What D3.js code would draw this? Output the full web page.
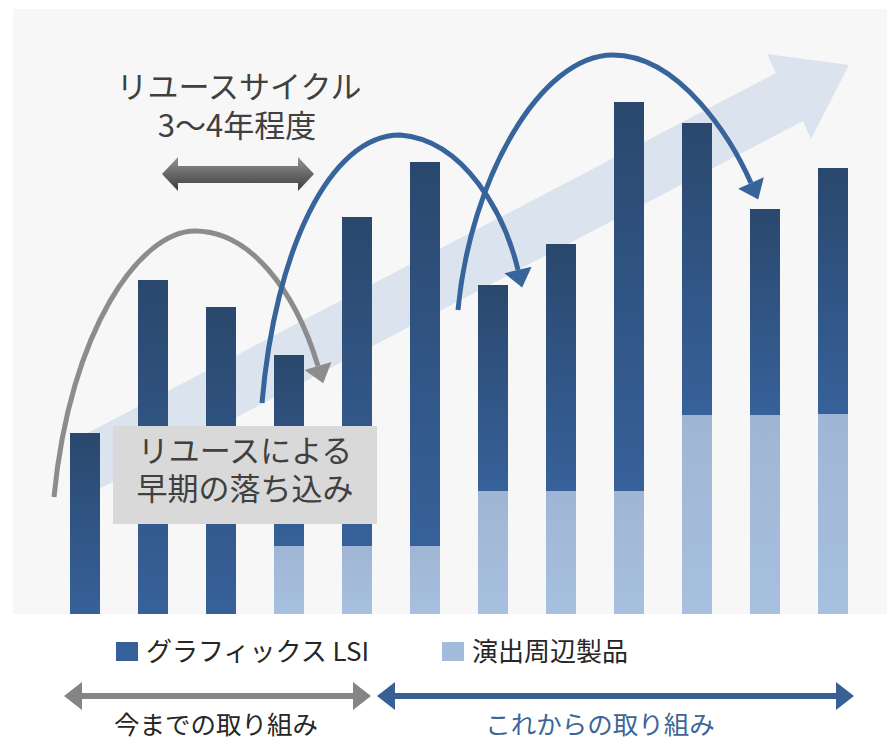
<!DOCTYPE html>
<html>
<head>
<meta charset="utf-8">
<script src="https://cdn.jsdelivr.net/npm/d3@7"></script>
<style>
  body { margin: 0; background: #fff; }
  svg { display: block; }
  text { font-family: "Noto Sans CJK JP", "Noto Sans", sans-serif; }
</style>
</head>
<body>
<div id="chart"></div>
<script>
// data (arbitrary units)
const periods = ["1", "2", "3", "4", "5", "6", "7", "8", "9", "10", "11", "12"];
const graphicsLSI = [18.1, 33.4, 30.7, 19.1, 32.9, 38.4, 20.6, 24.7, 38.9, 29.2, 20.6, 24.6];
const peripheral = [0, 0, 0, 6.8, 6.8, 6.8, 12.3, 12.3, 12.3, 19.9, 19.9, 20.0];
const seriesNames = ["グラフィックス LSI", "演出周辺製品"];
const spanLabels = ["今までの取り組み", "これからの取り組み"];
const cycleLabel = ["リユースサイクル", "3〜4年程度"];
const dropLabel = ["リユースによる", "早期の落ち込み"];

const width = 887, height = 741;
const panel = { left: 13, top: 9, bottom: 614 };

const svg = d3.select("#chart").append("svg")
    .attr("width", width)
    .attr("height", height);

const defs = svg.append("defs");
const grad = (id, c0, c1) => {
    const g = defs.append("linearGradient").attr("id", id)
        .attr("x1", 0).attr("x2", 0).attr("y1", 0).attr("y2", 1);
    g.append("stop").attr("offset", 0).attr("stop-color", c0);
    g.append("stop").attr("offset", 1).attr("stop-color", c1);
    return g;
};
grad("gDark", "#2a486d", "#37619a");
grad("gLight", "#9fb5d3", "#a7c0e0");
grad("gGrey", "#949494", "#3c3c3c")
    .attr("gradientUnits", "userSpaceOnUse")
    .attr("y1", 157).attr("y2", 191);

// panel background
svg.append("rect")
    .attr("x", panel.left).attr("y", panel.top)
    .attr("width", width - panel.left).attr("height", panel.bottom - panel.top)
    .attr("fill", "#f7f7f7");

const x = d3.scaleBand()
    .domain(periods)
    .range([51, 867])
    .paddingInner(38 / 68)
    .paddingOuter(19 / 68);

const y = d3.scaleLinear()
    .domain([0, 60])
    .range([panel.bottom, panel.bottom - 600]);

// big growth arrow behind the bars
svg.append("polygon")
    .attr("points", [[78, 438], [776, 73], [767, 54], [849, 65], [811, 139], [803, 121], [78, 500]].join(" "))
    .attr("fill", "#dbe3ee");

const data = periods.map((p, i) => ({ p, lsi: graphicsLSI[i], per: peripheral[i] }));

const bars = svg.append("g");
bars.selectAll("rect.per")
    .data(data.filter(d => d.per > 0))
    .join("rect")
    .attr("class", "per")
    .attr("x", d => x(d.p))
    .attr("y", d => y(d.per))
    .attr("width", x.bandwidth())
    .attr("height", d => y(0) - y(d.per))
    .attr("fill", "url(#gLight)");
bars.selectAll("rect.lsi")
    .data(data)
    .join("rect")
    .attr("class", "lsi")
    .attr("x", d => x(d.p))
    .attr("y", d => y(d.per + d.lsi))
    .attr("width", x.bandwidth())
    .attr("height", d => y(d.per) - y(d.per + d.lsi))
    .attr("fill", "url(#gDark)");

// curved arrows
function curveArrow(path, end, dir, color) {
    const g = svg.append("g");
    g.append("path")
        .attr("d", path)
        .attr("fill", "none")
        .attr("stroke", color)
        .attr("stroke-width", 5);
    const len = Math.hypot(dir[0], dir[1]);
    const ux = dir[0] / len, uy = dir[1] / len;
    const L = 18, W = 14;
    g.append("polygon")
        .attr("points", [
            [end[0] - uy * W, end[1] + ux * W],
            [end[0] + ux * L, end[1] + uy * L],
            [end[0] + uy * W, end[1] - ux * W]
        ].join(" "))
        .attr("fill", color);
}
curveArrow("M54,497 C70,330 140,231 195,231 C250,231 295,290 318,366", [318, 366], [23, 76], "#8c8c8c");
curveArrow("M262,403 C275,250 330,135 400,135 C465,140 505,215 518,270", [518, 270], [13, 55], "#37649a");
curveArrow("M458,310 C470,180 540,55 613,55 C680,55 732,140 751,183", [751, 183], [19, 43], "#37649a");

// grey double arrow under the cycle label
svg.append("polygon")
    .attr("points", [[162, 174], [178, 157], [178, 166], [298, 166], [298, 157], [314, 174],
                     [298, 191], [298, 183], [178, 183], [178, 191]].join(" "))
    .attr("fill", "url(#gGrey)");

// two-line labels as one text each
function twoLines(lines, cx, y0, dy, size, color) {
    const t = svg.append("text")
        .attr("text-anchor", "middle")
        .attr("font-size", size)
        .attr("fill", color);
    lines.forEach((s, i) => {
        t.append("tspan")
            .attr("x", cx[i])
            .attr("y", y0 + i * dy)
            .text(s);
    });
}
twoLines(cycleLabel, [239, 237], 98, 39, 31, "#404040");

// drop note box
svg.append("rect")
    .attr("x", 113).attr("y", 426)
    .attr("width", 264).attr("height", 98)
    .attr("fill", "#d9d9d9");
twoLines(dropLabel, [245, 245], 462, 38, 31, "#404040");

// legend
const legend = svg.append("g");
const legendX = [116, 442];
const legendColor = ["#36609a", "#a3bcdc"];
seriesNames.forEach((s, i) => {
    legend.append("rect")
        .attr("x", legendX[i]).attr("y", 642)
        .attr("width", 22).attr("height", 19)
        .attr("fill", legendColor[i]);
    legend.append("text")
        .attr("x", legendX[i] + 30).attr("y", 661)
        .attr("font-size", 26)
        .attr("fill", "#262626")
        .text(s);
});

// bottom span arrows
function spanArrow(x0, x1, cy, color) {
    const h = 18, hw = 14, sw = 3;
    svg.append("polygon")
        .attr("points", [[x0, cy], [x0 + h, cy - hw], [x0 + h, cy - sw], [x1 - h, cy - sw], [x1 - h, cy - hw], [x1, cy],
                         [x1 - h, cy + hw], [x1 - h, cy + sw], [x0 + h, cy + sw], [x0 + h, cy + hw]].join(" "))
        .attr("fill", color);
}
spanArrow(64, 371, 696, "#858585");
spanArrow(377, 854, 696, "#386094");

svg.append("text")
    .attr("x", 216).attr("y", 734)
    .attr("text-anchor", "middle")
    .attr("font-size", 25.5)
    .attr("fill", "#262626")
    .text(spanLabels[0]);
svg.append("text")
    .attr("x", 600).attr("y", 734)
    .attr("text-anchor", "middle")
    .attr("font-size", 25.5)
    .attr("fill", "#3d6597")
    .text(spanLabels[1]);
</script>
</body>
</html>
